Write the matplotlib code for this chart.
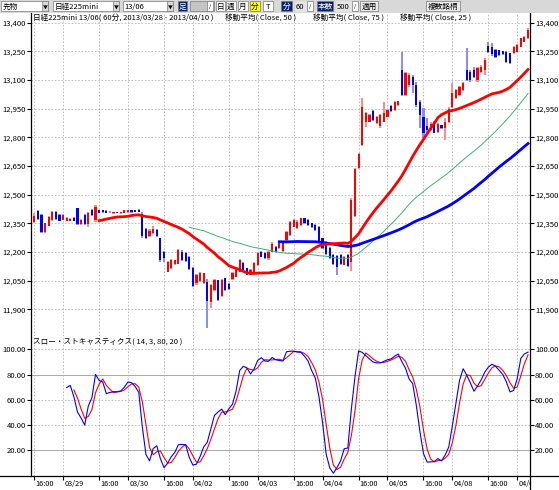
import numpy as np
import pandas as pd
import matplotlib
matplotlib.use("Agg")
import matplotlib.pyplot as plt
from matplotlib.patches import Rectangle
from matplotlib.lines import Line2D
from matplotlib.transforms import Bbox, TransformedBbox, blended_transform_factory, offset_copy

plt.rcParams['font.family'] = ['Noto Sans CJK JP', 'DejaVu Sans']

# ---- data: Nikkei225 mini 13/06, 60 min bars ----
# 5 warm-up bars of 3/28 (left of the window, only used by MA / stochastic)
pre_open = [12280, 12300, 12310, 12305, 12315]
pre_high = [12320, 12330, 12325, 12320, 12335]
pre_low = [12270, 12285, 12290, 12290, 12300]
pre_close = [12300, 12310, 12305, 12315, 12325]

opens = [12324, 12355, 12415, 12394, 12305, 12338, 12368, 12410, 12392, 12368,
         12362, 12362, 12378, 12428, 12345, 12394, 12345, 12420, 12365, 12418,
         12418, 12415, 12412, 12402, 12410, 12402, 12404, 12408, 12420, 12418,
         12420, 12400, 12320, 12282, 12300, 12315, 12272, 12200, 12098, 12115,
         12135, 12140, 12202, 12195, 12175, 12115, 12037, 12050, 12040, 12045,
         11940, 12002, 12052, 11968, 12062, 12035, 12058, 12072, 12098, 12141,
         12115, 12080, 12090, 12132, 12202, 12193, 12167, 12202, 12228, 12220,
         12205, 12263, 12289, 12333, 12324, 12342, 12376, 12368, 12350, 12342,
         12333, 12272, 12255, 12220, 12185, 12180, 12185, 12133, 12185, 12150,
         12390, 12640, 12760, 12882, 12882, 12940, 12875, 12860, 12882, 12908,
         12965, 12945, 12970, 13152, 13021, 13073, 13117, 13073, 12986, 12908,
         12860, 12838, 12880, 12830, 12864, 12850, 12880, 12960, 13004, 13021,
         13047, 13152, 13140, 13150, 13100, 13143, 13152, 13280, 13270, 13255,
         13256, 13250, 13247, 13239, 13239, 13247, 13274, 13300, 13317]
highs = [12400, 12402, 12420, 12400, 12352, 12390, 12415, 12415, 12398, 12398,
         12385, 12378, 12382, 12432, 12372, 12398, 12410, 12424, 12445, 12420,
         12420, 12418, 12414, 12412, 12412, 12412, 12422, 12420, 12422, 12420,
         12424, 12408, 12326, 12318, 12335, 12320, 12275, 12205, 12155, 12162,
         12160, 12215, 12210, 12202, 12180, 12120, 12085, 12095, 12092, 12058,
         12035, 12060, 12056, 12060, 12065, 12038, 12098, 12115, 12165, 12148,
         12118, 12110, 12150, 12200, 12206, 12198, 12206, 12250, 12232, 12250,
         12258, 12312, 12362, 12372, 12365, 12380, 12380, 12372, 12352, 12345,
         12336, 12276, 12258, 12224, 12188, 12185, 12188, 12180, 12188, 12481,
         12640, 12716, 13004, 12934, 12920, 12943, 12910, 12922, 12986, 12946,
         12969, 12988, 12992, 13248, 13140, 13134, 13125, 13091, 12995, 12951,
         12899, 12882, 12884, 12875, 12866, 12899, 12960, 13082, 13050, 13068,
         13090, 13265, 13152, 13169, 13169, 13178, 13213, 13300, 13291, 13260,
         13258, 13252, 13250, 13242, 13278, 13286, 13320, 13330, 13370]
lows = [12315, 12350, 12370, 12300, 12300, 12335, 12360, 12365, 12360, 12365,
        12360, 12360, 12360, 12340, 12342, 12342, 12333, 12390, 12355, 12402,
        12405, 12402, 12406, 12400, 12402, 12400, 12402, 12405, 12406, 12408,
        12408, 12275, 12268, 12278, 12295, 12278, 12150, 12150, 12095, 12110,
        12130, 12138, 12155, 12150, 12105, 12015, 12030, 12045, 12035, 11805,
        11905, 11998, 11945, 11965, 11998, 12000, 12055, 12068, 12095, 12095,
        12078, 12078, 12085, 12128, 12172, 12162, 12160, 12198, 12194, 12215,
        12200, 12260, 12285, 12330, 12320, 12338, 12346, 12338, 12326, 12312,
        12254, 12218, 12184, 12166, 12131, 12080, 12131, 12130, 12120, 12100,
        12385, 12636, 12755, 12856, 12878, 12886, 12870, 12847, 12878, 12905,
        12932, 12940, 12965, 13015, 13015, 13065, 13030, 12960, 12850, 12795,
        12812, 12835, 12820, 12825, 12845, 12786, 12875, 12955, 13000, 13018,
        13044, 13095, 13091, 13110, 13091, 13138, 13126, 13240, 13225, 13215,
        13225, 13228, 13190, 13182, 13236, 13244, 13270, 13296, 13314]
closes = [12394, 12390, 12375, 12305, 12350, 12385, 12410, 12372, 12362, 12392,
          12380, 12375, 12362, 12345, 12368, 12345, 12405, 12394, 12435, 12405,
          12408, 12404, 12408, 12410, 12404, 12410, 12420, 12418, 12408, 12410,
          12410, 12285, 12272, 12310, 12322, 12282, 12160, 12170, 12150, 12158,
          12158, 12210, 12160, 12155, 12110, 12020, 12080, 12088, 12090, 11945,
          12028, 12056, 11950, 12056, 12002, 12005, 12092, 12106, 12158, 12098,
          12080, 12106, 12141, 12193, 12176, 12167, 12202, 12244, 12198, 12246,
          12255, 12307, 12359, 12368, 12359, 12376, 12350, 12342, 12330, 12316,
          12258, 12222, 12188, 12170, 12135, 12120, 12135, 12176, 12125, 12470,
          12635, 12712, 12960, 12925, 12915, 12892, 12905, 12915, 12925, 12943,
          12936, 12984, 12988, 13021, 13134, 13126, 13075, 12969, 12917, 12821,
          12838, 12872, 12825, 12870, 12847, 12880, 12950, 13030, 13047, 13065,
          13085, 13100, 13100, 13117, 13160, 13170, 13204, 13248, 13235, 13221,
          13230, 13235, 13195, 13187, 13274, 13282, 13317, 13326, 13361]

ma_periods = [50, 75, 25]
tick_bars = [1, 9, 19, 27, 37, 45, 55, 63, 73, 81, 91, 99, 109, 117, 127, 135]
tick_labels = ['16:00', '03/29', '16:00', '03/30', '16:00', '04/02', '16:00', '04/03',
               '16:00', '04/04', '16:00', '04/05', '16:00', '04/08', '16:00', '04/09']
price_ticks = [11900, 12050, 12200, 12350, 12500, 12650, 12800, 12950, 13100, 13250, 13400]
stoch_ticks = [20, 40, 60, 80, 100]

# ---- indicators ----
npre = len(pre_close)
c_all = pd.Series(pre_close + closes, dtype=float)
h_all = pd.Series(pre_high + highs, dtype=float)
l_all = pd.Series(pre_low + lows, dtype=float)
ma = {n: c_all.rolling(n).mean().values[npre:] for n in ma_periods}
hh = h_all.rolling(14).max()
ll = l_all.rolling(14).min()
pct_d = 100 * (c_all - ll).rolling(3).sum() / (hh - ll).rolling(3).sum()
slow_d = pct_d.rolling(3).mean()
pct_d = pct_d.values[npre:]
slow_d = slow_d.values[npre:]

O = np.array(opens, float); Hh = np.array(highs, float)
L = np.array(lows, float); C = np.array(closes, float)
x = np.arange(len(C))
up = C >= O

# ---- figure ----
W, H = 559, 490
fig = plt.figure(figsize=(W / 100, H / 100), dpi=100)
fig.patch.set_facecolor('white')


def box(x0, y0, x1, y1):
    return [x0 / W, 1 - y1 / H, (x1 - x0) / W, (y1 - y0) / H]


def ftext(px, py, s, **kw):
    kw.setdefault('fontsize', 5.5)
    kw.setdefault('va', 'center')
    return fig.text(px / W, 1 - py / H, s, **kw)


XL = (0.1, 138.55)
gridc = '#b4b4b4'
dash = (0, (2, 2))

ax1 = fig.add_axes(box(31, 13, 530, 336))
ax2 = fig.add_axes(box(31, 336, 530, 475.5))
for ax in (ax1, ax2):
    ax.set_xlim(*XL)
    for s in ax.spines.values():
        s.set_visible(False)
    ax.set_facecolor('none')
    for k in tick_bars:
        ax.axvline(k, color=gridc, lw=0.6, ls=dash, zorder=0)

ax1.set_ylim(11761, 13450)
ax2.set_ylim(0, 110.5)

# price grid
for p in price_ticks:
    ax1.axhline(p, color=gridc, lw=0.6, ls=dash, zorder=0)
for v in stoch_ticks:
    if v in (20, 80):
        ax2.axhline(v, color='#a8a8a8', lw=0.7, zorder=0)
    else:
        ax2.axhline(v, color=gridc, lw=0.6, ls=dash, zorder=0)

# candles: light bar = high/low range, solid bar = body
light = np.where(up, '#ff8c8c', '#8c8cff')
solid = np.where(up, '#ff0000', '#0000ff')
ax1.bar(x, Hh - L, bottom=L, width=0.6, color=light, zorder=2)
body = np.maximum(np.abs(C - O), 4)
ax1.bar(x, body, bottom=np.minimum(O, C), width=0.6, color=solid, zorder=3)

# moving averages
ax1.plot(x, ma[50], color='#3cb371', lw=0.7, zorder=4)
ax1.plot(x, ma[75], color='#0000ff', lw=2.0, zorder=5)
ax1.plot(x, ma[25], color='#ff0000', lw=2.0, zorder=6)

# slow stochastic
ax2.plot(x, slow_d, color='#ff0000', lw=0.8, zorder=4)
ax2.plot(x, pct_d, color='#0000ff', lw=0.8, zorder=5)

# ticks
ax1.set_yticks(price_ticks)
ax1.set_yticklabels([f'{v:,}' for v in price_ticks])
ax2.set_yticks(stoch_ticks)
ax2.set_yticklabels([f'{v:.2f}' for v in stoch_ticks])
for ax in (ax1, ax2):
    ax.tick_params(axis='y', left=True, right=True, labelleft=True, labelright=True,
                   direction='out', length=2.6, width=0.8, pad=1, labelsize=5.5)
ax1.tick_params(axis='x', bottom=False, labelbottom=False)
ax2.set_xticks(tick_bars)
ax2.tick_params(axis='x', bottom=True, labelbottom=False, direction='out',
                length=3.2, width=0.8)

# x labels, clipped at the right frame
clip = TransformedBbox(Bbox([[0, 0], [530 / W, 1]]), fig.transFigure)
tr = offset_copy(blended_transform_factory(ax2.transData, fig.transFigure),
                 fig=fig, x=1.2, y=0, units='dots')
for k, lab in zip(tick_bars, tick_labels):
    t = fig.text(k, 1 - 484 / H, lab, transform=tr, fontsize=5.3, va='center', ha='left')
    t.set_clip_on(True)
    t.set_clip_box(clip)

# frame lines
fig.add_artist(Line2D([31 / W, 31 / W], [1 - 13 / H, 1 - 475.5 / H], color='black', lw=0.9))
fig.add_artist(Line2D([530 / W, 530 / W], [1 - 13 / H, 0], color='black', lw=0.9))
fig.add_artist(Line2D([0, 1], [1 - 475.5 / H, 1 - 475.5 / H], color='black', lw=0.9))

# panel titles
ftext(33, 17.5, '日経225mini 13/06( 60分, 2013/03/28 - 2013/04/10 )')
ftext(225, 17.5, '移動平均( Close, 50 )')
ftext(313, 17.5, '移動平均( Close, 75 )')
ftext(400, 17.5, '移動平均( Close, 25 )')
ftext(33, 342, 'スロー・ストキャスティクス( 14, 3, 80, 20 )')

# ---- toolbar strip ----
tb = fig.add_axes(box(0, 0, W, 13))
tb.set_xlim(0, W)
tb.set_ylim(13, 0)
tb.axis('off')
tb.add_patch(Rectangle((0, 0), W, 13, facecolor='#d8d8d8', edgecolor='none'))


def widget(x0, x1, fc, txt='', tc='black', ha='left', ec='#7a7a7a', fs=5.5):
    tb.add_patch(Rectangle((x0, 1.5), x1 - x0, 10, facecolor=fc, edgecolor=ec, lw=0.5))
    if txt:
        tx = {'left': x0 + 1.5, 'center': (x0 + x1) / 2, 'right': x1 - 1.5}[ha]
        tb.text(tx, 6.7, txt, ha=ha, va='center', fontsize=fs, color=tc)


widget(1, 48, 'white', '先物')
widget(42, 48, '#d8d8d8', '▼', ha='center', fs=3.5)
widget(53, 119, 'white', '日経225mini')
widget(113, 119, '#d8d8d8', '▼', ha='center', fs=3.5)
widget(123, 173, 'white', '13/06')
widget(167, 173, '#d8d8d8', '▼', ha='center', fs=3.5)
widget(178, 187, '#0a246a', '足', tc='white', ha='center')
widget(190, 214, '#c4c4c4', '')
widget(207, 213, 'white', '/', ha='center', fs=4)
widget(216, 225, 'white', '日', ha='center')
widget(226, 236, 'white', '週', ha='center')
widget(238, 248, 'white', '月', ha='center')
widget(250, 260, '#ffff00', '分', ha='center')
widget(263, 273, 'white', 'T', ha='center')
widget(281, 292, '#0a246a', '分', tc='white', ha='center')
widget(295, 306, '#e4e4e4', '60', ha='right', ec='#e4e4e4')
widget(307, 313, 'white', '/', ha='center', fs=4)
widget(317, 333, '#0a246a', '本数', tc='white', ha='center')
widget(336, 351, '#e4e4e4', '500', ha='right', ec='#e4e4e4')
widget(352, 358, 'white', '/', ha='center', fs=4)
widget(360, 378, '#ececec', '適用', ha='center')
widget(426, 460, '#ececec', '複数銘柄', ha='center')

fig.savefig('out.png', dpi=100)
